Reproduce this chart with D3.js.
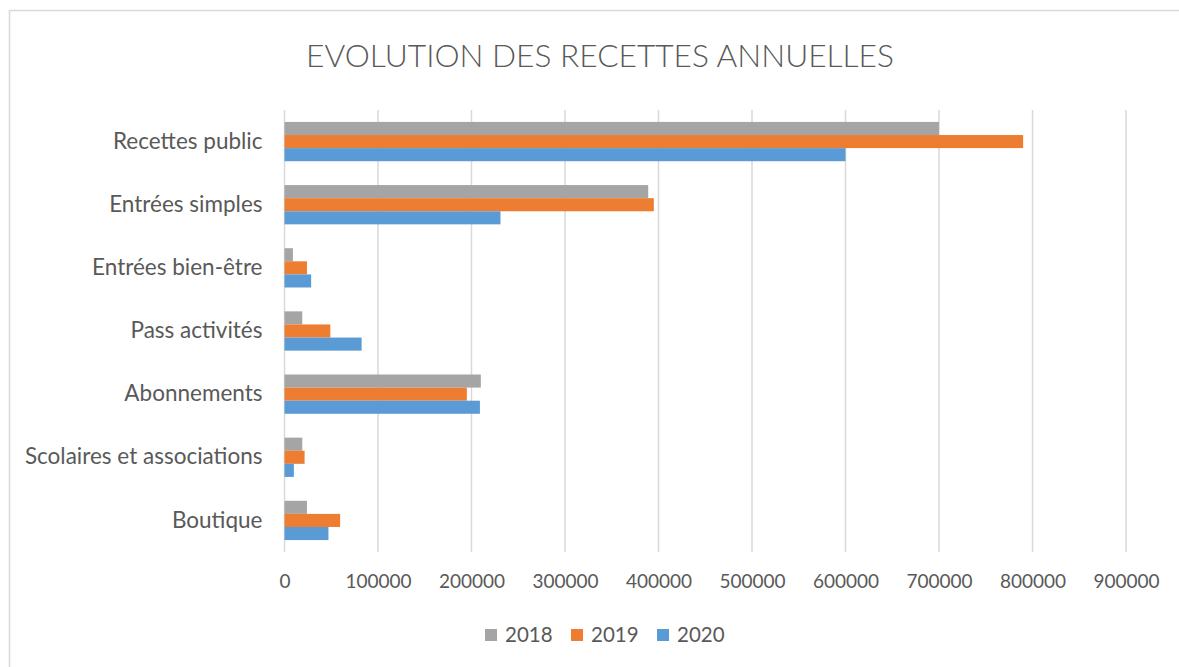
<!DOCTYPE html>
<html>
<head>
<meta charset="utf-8">
<script src="https://cdn.jsdelivr.net/npm/d3@7"></script>
<style>
  body { margin: 0; background: #fff; }
  svg { display: block; }
  text { font-family: Lato, "Open Sans", sans-serif; fill: #595959; }
</style>
</head>
<body>
<svg id="chart" width="1179" height="667"></svg>
<script>
// data
var categories = ['Recettes public', 'Entrées simples', 'Entrées bien-être', 'Pass activités',
                  'Abonnements', 'Scolaires et associations', 'Boutique'];
var years = ['2018', '2019', '2020'];
var values2018 = [700000, 389000, 9000, 19000, 210000, 19000, 24000];
var values2019 = [790000, 395000, 24000, 49000, 195000, 21500, 59500];
var values2020 = [600000, 231000, 28500, 82500, 209000, 10000, 47000];
var tickValues = [0, 100000, 200000, 300000, 400000, 500000, 600000, 700000, 800000, 900000];
var colors = ['#a5a5a5', '#ed7d31', '#5b9bd5'];

var series = [values2018, values2019, values2020];

var svg = d3.select('#chart');
var width = +svg.attr('width'),
    height = +svg.attr('height');

var margin = {top: 110, bottom: 115, left: 284.5, right: 53};

// outer frame
svg.append('rect')
    .attr('x', 9.5).attr('y', 10.5)
    .attr('width', 1180).attr('height', 680)
    .attr('fill', 'none')
    .attr('stroke', '#d9d9d9')
    .attr('stroke-width', 1.5);

svg.append('text')
    .attr('x', 600)
    .attr('y', 67)
    .attr('text-anchor', 'middle')
    .attr('font-size', 31.7)
    .attr('font-weight', 300)
    .text('EVOLUTION DES RECETTES ANNUELLES');

var x = d3.scaleLinear()
    .domain([0, 900000])
    .range([margin.left, width - margin.right]);

var y0 = d3.scaleBand()
    .domain(categories)
    .range([margin.top, height - margin.bottom])
    .paddingInner(0.378)
    .paddingOuter(0.189);

var y1 = d3.scaleBand()
    .domain(years)
    .range([0, y0.bandwidth()]);

// gridlines
svg.append('g')
    .selectAll('line')
    .data(tickValues)
    .enter().append('line')
    .attr('x1', function (d) { return x(d); })
    .attr('x2', function (d) { return x(d); })
    .attr('y1', margin.top)
    .attr('y2', height - margin.bottom)
    .attr('stroke', '#d9d9d9')
    .attr('stroke-width', 1.5);

// bars
var groups = svg.append('g')
    .selectAll('g')
    .data(categories)
    .enter().append('g')
    .attr('transform', function (d) { return 'translate(0,' + y0(d) + ')'; });

groups.selectAll('rect')
    .data(function (d, i) {
        return years.map(function (yr, j) {
            return {year: yr, value: series[j][i], color: colors[j]};
        });
    })
    .enter().append('rect')
    .attr('x', x(0))
    .attr('y', function (d) { return y1(d.year); })
    .attr('width', function (d) { return x(d.value) - x(0); })
    .attr('height', y1.bandwidth())
    .attr('fill', function (d) { return d.color; });

// x axis labels
var xAxis = d3.axisBottom(x)
    .tickValues(tickValues)
    .tickSize(0)
    .tickPadding(0)
    .tickFormat(d3.format('d'));

var gx = svg.append('g')
    .attr('transform', 'translate(0,' + 588 + ')')
    .call(xAxis);
gx.select('.domain').remove();
gx.selectAll('text')
    .attr('dy', 0)
    .attr('font-size', 19)
    .attr('fill', '#595959')
    .style('font-family', 'Lato, sans-serif');

// category labels
var yAxis = d3.axisLeft(y0).tickSize(0).tickPadding(22);
var gy = svg.append('g')
    .attr('transform', 'translate(' + x(0) + ',0)')
    .call(yAxis);
gy.select('.domain').remove();
gy.selectAll('text')
    .attr('font-size', 22.5)
    .attr('fill', '#595959')
    .style('font-family', 'Lato, sans-serif');

// legend
var legendX = [485, 571, 657];
var legend = svg.append('g')
    .selectAll('g')
    .data(years)
    .enter().append('g')
    .attr('transform', function (d, i) { return 'translate(' + legendX[i] + ',629)'; });

legend.append('rect')
    .attr('width', 12).attr('height', 12)
    .attr('fill', function (d, i) { return colors[i]; });

legend.append('text')
    .attr('x', 20)
    .attr('y', 13)
    .attr('font-size', 20.5)
    .text(function (d) { return d; });
</script>
</body>
</html>
